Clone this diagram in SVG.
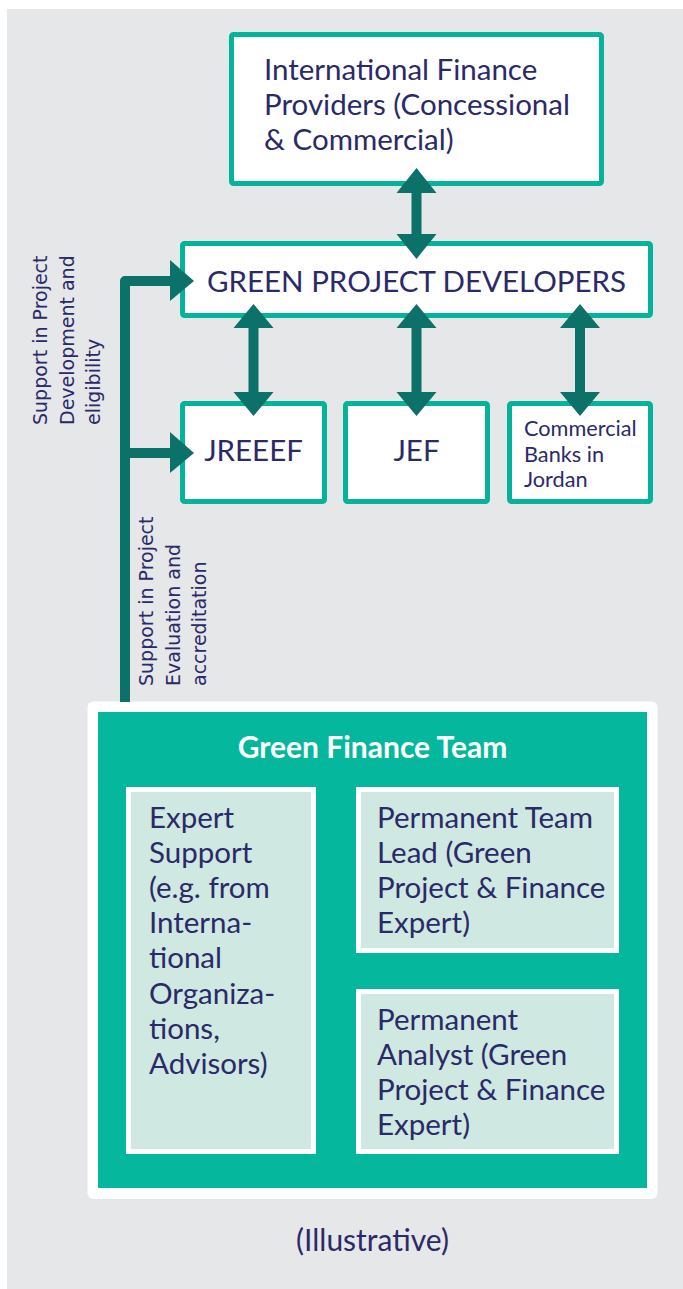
<svg xmlns="http://www.w3.org/2000/svg" width="683" height="1289" viewBox="0 0 683 1289">
<style>
.box{fill:#FFFFFF;stroke:#04B49A;stroke-width:5}
.t{font-family:Lato,"Liberation Sans",sans-serif;fill:#2B2A69}
.big{font-size:29.5px}
.cb{font-size:21.7px}
.lbl{font-family:"DejaVu Sans","Liberation Sans",sans-serif;font-size:19px;fill:#2B2A69}
.arr{fill:#0B7169}
.conn{fill:none;stroke:#0B7169;stroke-width:10;stroke-linejoin:round}
.inner{fill:#CFE8E1;stroke:#FFFFFF;stroke-width:5}
</style>
<rect x="7" y="9" width="676" height="1280" fill="#E6E7E8"/>

<g id="ifp">
  <rect class="box" x="231.5" y="34.5" width="370" height="149" rx="2"/>
  <text class="t big" x="264" y="80">International Finance</text>
  <text class="t big" x="264" y="115">Providers (Concessional</text>
  <text class="t big" x="264" y="150">&amp; Commercial)</text>
</g>

<g id="gpd">
  <rect class="box" x="182.5" y="243.5" width="468" height="72" rx="2"/>
  <text class="t big" x="416.5" y="292" text-anchor="middle">GREEN PROJECT DEVELOPERS</text>
</g>

<g id="jreeef">
  <rect class="box" x="182.5" y="403.5" width="142" height="98" rx="2"/>
  <text class="t big" x="253.5" y="461" text-anchor="middle">JREEEF</text>
</g>

<g id="jef">
  <rect class="box" x="345.5" y="403.5" width="142" height="98" rx="2"/>
  <text class="t big" x="416.5" y="461" text-anchor="middle">JEF</text>
</g>

<g id="banks">
  <rect class="box" x="509.5" y="403.5" width="141" height="98" rx="2"/>
  <text class="t cb" x="524" y="436">Commercial</text>
  <text class="t cb" x="524" y="461.5">Banks in</text>
  <text class="t cb" x="524" y="487">Jordan</text>
</g>

<g id="green-finance-team">
  <rect x="87.5" y="701.5" width="570" height="497.5" rx="6" fill="#FFFFFF"/>
  <rect x="98" y="712" width="549" height="476" fill="#05B89D"/>
  <text x="372.5" y="757.5" text-anchor="middle" font-family="Lato,'Liberation Sans',sans-serif" font-weight="bold" font-size="30" fill="#FFFFFF">Green Finance Team</text>
</g>

<g id="expert-support">
  <rect class="inner" x="128.5" y="789.5" width="185" height="362"/>
  <text class="t big" x="149" y="828">Expert</text>
  <text class="t big" x="149" y="863">Support</text>
  <text class="t big" x="149" y="898">(e.g. from</text>
  <text class="t big" x="149" y="933">Interna-</text>
  <text class="t big" x="149" y="968">tional</text>
  <text class="t big" x="149" y="1004">Organiza-</text>
  <text class="t big" x="149" y="1039">tions,</text>
  <text class="t big" x="149" y="1074">Advisors)</text>
</g>

<g id="team-lead">
  <rect class="inner" x="358.5" y="789.5" width="258" height="161"/>
  <text class="t big" x="377" y="828">Permanent Team</text>
  <text class="t big" x="377" y="863">Lead (Green</text>
  <text class="t big" x="377" y="898">Project &amp; Finance</text>
  <text class="t big" x="377" y="933">Expert)</text>
</g>

<g id="analyst">
  <rect class="inner" x="358.5" y="991.5" width="258" height="160"/>
  <text class="t big" x="377" y="1030">Permanent</text>
  <text class="t big" x="377" y="1065">Analyst (Green</text>
  <text class="t big" x="377" y="1100">Project &amp; Finance</text>
  <text class="t big" x="377" y="1135">Expert)</text>
</g>

<g id="illustrative">
  <text class="t" x="372.5" y="1251" text-anchor="middle" font-size="30">(Illustrative)</text>
</g>

<g id="connectors">
  <polygon class="arr" points="416.5,168 436.5,193 421.5,193 421.5,234 436.5,234 416.5,259 396.5,234 411.5,234 411.5,193 396.5,193"/>
  <polygon class="arr" points="253.5,304 273.5,328 258.5,328 258.5,392 273.5,392 253.5,416 233.5,392 248.5,392 248.5,328 233.5,328"/>
  <polygon class="arr" points="416.5,304 436.5,328 421.5,328 421.5,392 436.5,392 416.5,416 396.5,392 411.5,392 411.5,328 396.5,328"/>
  <polygon class="arr" points="580,304 600,328 585,328 585,392 600,392 580,416 560,392 575,392 575,328 560,328"/>
  <path class="conn" d="M125,702 V281 H172"/>
  <path class="conn" d="M125,453 H172"/>
  <polygon class="arr" points="170,260 194,281 170,301"/>
  <polygon class="arr" points="170,432 194,453 170,473"/>
  <g class="lbl">
    <text transform="rotate(-90)" x="-425" y="46.5">Support in Project</text>
    <text transform="rotate(-90)" x="-425" y="73.5">Development and</text>
    <text transform="rotate(-90)" x="-425" y="100">eligibility</text>
    <text transform="rotate(-90)" x="-686" y="153">Support in Project</text>
    <text transform="rotate(-90)" x="-686" y="179.5">Evaluation and</text>
    <text transform="rotate(-90)" x="-686" y="206">accreditation</text>
  </g>
</g>
</svg>
